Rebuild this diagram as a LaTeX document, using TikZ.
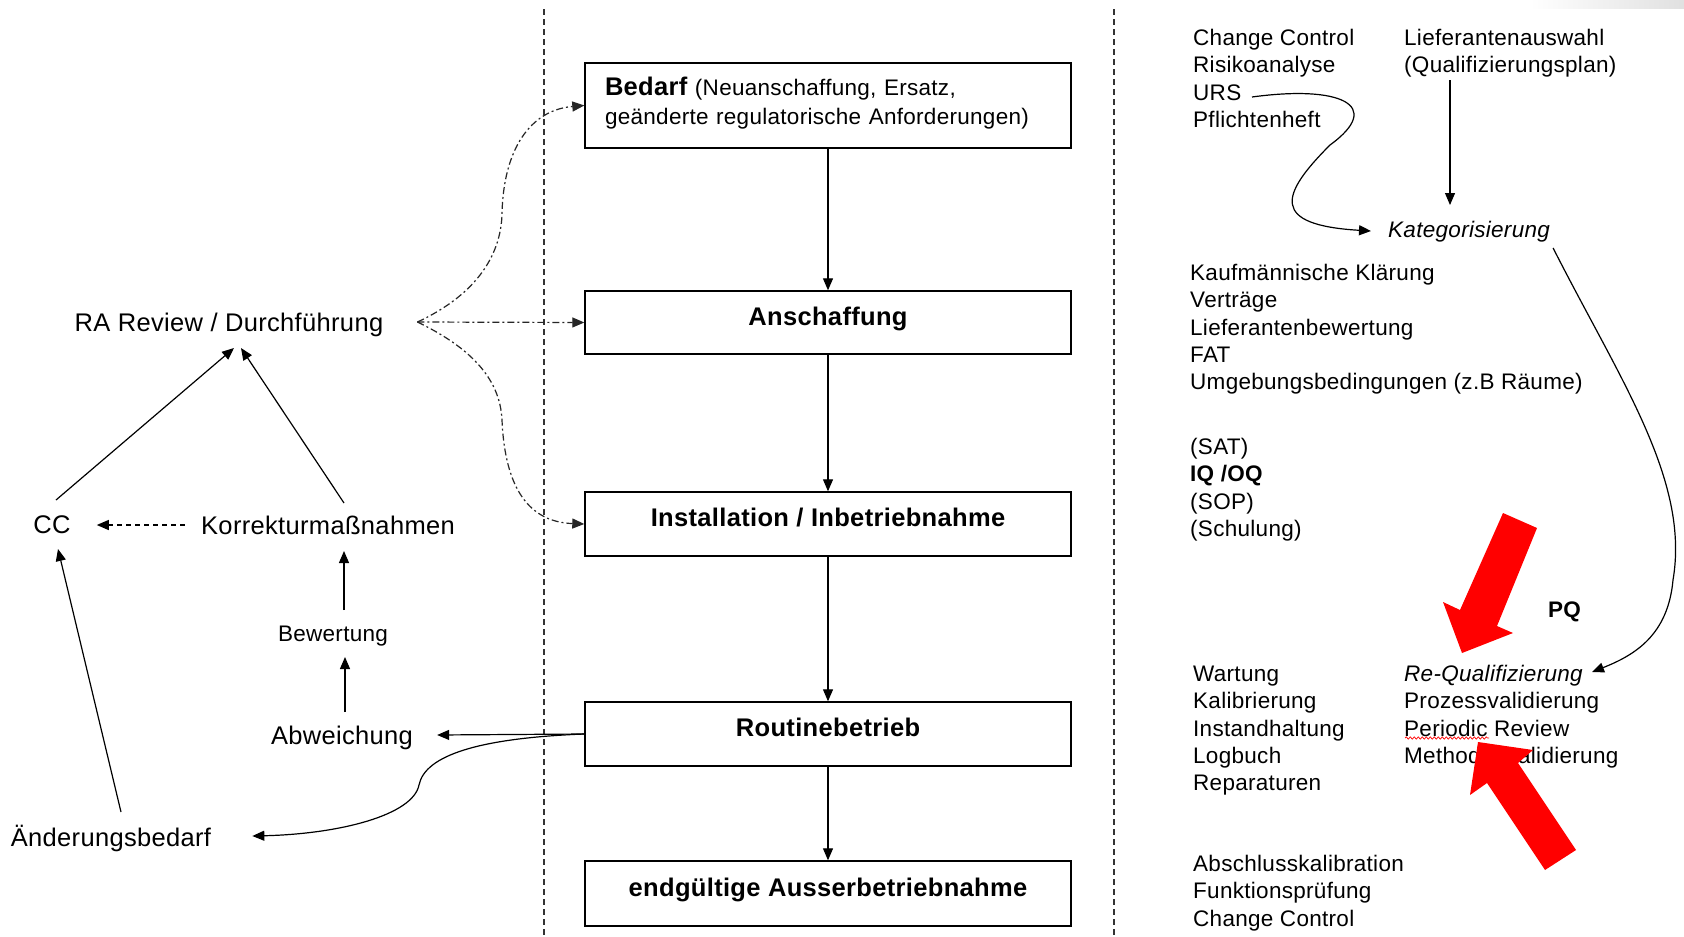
\documentclass[tikz,border=0pt]{standalone}
\usepackage{fontspec}
\setmainfont{Liberation Sans}[LetterSpace=1.3]
\usetikzlibrary{arrows.meta,calc,decorations.pathmorphing}
\newcommand\szA{\fontsize{22.5}{27.4}\selectfont}
\newcommand\szB{\fontsize{25.5}{30}\selectfont}
\newcommand\szC{\fontsize{22.5}{29}\selectfont}
\newcommand\firstln{\rule{0pt}{20pt}}
\begin{document}
\begin{tikzpicture}[x=1pt,y=-1pt,
  conn/.style={draw=black, line width=1.2pt, -{Triangle[length=12pt,width=10pt]}},
  boxbase/.style={draw=black, line width=1.4pt, fill=white, minimum width=486pt, inner sep=0pt},
  box/.style={boxbase, font=\szB\bfseries, text height=20pt, text depth=15pt},
  lbl/.style={inner sep=0pt, anchor=base, font=\szB},
  blk/.style={inner sep=0pt, anchor=north west, align=left, font=\szA},
  sep/.style={line width=1.4pt, dash pattern=on 6pt off 4pt, draw=black!80},
  dd/.style={line width=1.2pt, draw=black!85, dash pattern=on 7pt off 3pt on 2pt off 3pt, -{Triangle[length=12pt,width=10pt]}},
  redarrow/.style={fill=red, draw=none}
]
\useasboundingbox (0,0) rectangle (1684,937);
\fill[white] (0,0) rectangle (1684,937);
\shade[left color=white, right color=black!12] (1530,0) rectangle (1684,8);

% separators
\draw[sep] (544,9) -- (544,937);
\draw[sep] (1114,9) -- (1114,937);

% central boxes
\node[boxbase, minimum height=85pt, text width=446pt, inner xsep=20pt, align=left, font=\szC] (bedarf) at (828,105.5)
  {\rule{0pt}{12pt}{\szB\bfseries Bedarf} (Neuanschaffung, Ersatz,\\geänderte regulatorische Anforderungen)\rule[-10pt]{0pt}{10pt}};
\node[box, minimum height=63pt] (ansch) at (828,322.5) {Anschaffung};
\node[box, minimum height=64pt] (inst) at (828,524) {Installation / Inbetriebnahme};
\node[box, minimum height=64pt] (routine) at (828,734) {Routinebetrieb};
\node[box, minimum height=65pt] (ende) at (828,893.5) {endgültige Ausserbetriebnahme};

\draw[conn] (bedarf) -- (ansch);
\draw[conn] (ansch) -- (inst);
\draw[conn] (inst) -- (routine);
\draw[conn] (routine) -- (ende);

% left labels
\node[lbl] (ra) at (229,331) {RA Review / Durchführung};
\node[lbl] (cc) at (52,533) {CC};
\node[lbl] (korr) at (328,534) {Korrekturmaßnahmen};
\node[lbl, font=\szA] (bew) at (333,641) {Bewertung};
\node[lbl] (abw) at (342,744) {Abweichung};
\node[lbl] (aend) at (111,846) {Änderungsbedarf};

\draw[conn] ($(cc.base)+(4,-33)$) -- ($(ra.base)+(5,17)$);
\draw[conn] ($(korr.base)+(16,-31)$) -- ($(ra.base)+(12,17)$);
\draw[conn, dash pattern=on 5pt off 4pt] ($(korr.base west)+(-16,-9)$) -- ($(cc.base east)+(26,-8)$);
\draw[conn] ($(bew.base)+(11,-31)$) -- ($(korr.base)+(16,17)$);
\draw[conn] ($(abw.base)+(3,-32)$) -- ($(bew.base)+(12,16)$);
\draw[conn] ($(aend.base)+(10,-34)$) -- ($(cc.base)+(6,16)$);
\draw[conn] (routine.west) -- ($(abw.base east)+(24,-9)$);
\draw[conn] (routine.west) .. controls (480,738) and (425,755) .. (419,785)
  .. controls (413,815) and (340,834) .. ($(aend.base east)+(41,-10)$);

% dash-dot links from RA
\draw[dd] ($(ra.base east)+(34,-9)$) .. controls (465,300) and (500,265) .. (502,215)
  .. controls (503,150) and (530,110) .. (bedarf.west);
\draw[dd] ($(ra.base east)+(34,-9)$) -- (ansch.west);
\draw[dd] ($(ra.base east)+(34,-9)$) .. controls (465,345) and (500,375) .. (502,420)
  .. controls (505,490) and (530,522) .. (inst.west);

% right column texts
\node[blk] (ccb) at (1193,25) {\firstln Change Control\\Risikoanalyse\\URS\\Pflichtenheft};
\node[blk] (lief) at (1404,25) {\firstln Lieferantenauswahl\\(Qualifizierungsplan)};
\node[lbl, anchor=base west, font=\szA\itshape] (kat) at (1388,237) {Kategorisierung};
\node[blk] (kauf) at (1190,260) {\firstln Kaufmännische Klärung\\Verträge\\Lieferantenbewertung\\FAT\\Umgebungsbedingungen (z.B Räume)};
\node[blk] (sat) at (1190,434) {\firstln (SAT)\\\textbf{IQ /OQ}\\(SOP)\\(Schulung)};
\node[lbl, anchor=base west, font=\szA\bfseries] (pq) at (1548,617) {PQ};
\node[blk] (wart) at (1193,661) {\firstln Wartung\\Kalibrierung\\Instandhaltung\\Logbuch\\Reparaturen};
\node[blk] (reqa) at (1404,661) {\firstln\textit{Re-Qualifizierung}\\Prozessvalidierung\\Periodic Review\\Methodenvalidierung};
\node[blk] (absch) at (1193,851) {\firstln Abschlusskalibration\\Funktionsprüfung\\Change Control};

% wavy underline under "Periodic"
\draw[red, line width=0.7pt, decorate, decoration={snake, amplitude=1.1pt, segment length=4pt}]
  ($(reqa.north west)+(1,77)$) -- ($(reqa.north west)+(85,77)$);

% right connectors
\draw[conn] ($(ccb.north west)+(59,72)$) .. controls (1340,85) and (1385,105) .. (1330,145)
  .. controls (1280,195) and (1270,225) .. ($(kat.base west)+(-17,-6)$);
\draw[conn] ($(lief.north west)+(46,55)$) -- ($(kat.base west)+(62,-32)$);
\draw[conn] ($(kat.base east)+(3,11)$) .. controls (1620,380) and (1690,480) .. (1673,580)
  .. controls (1668,635) and (1635,655) .. ($(reqa.north west)+(188,11)$);

% red highlight arrows
\fill[redarrow] (1537,528) -- (1497,626) -- (1513,633) -- (1462,653)
  -- (1443,602) -- (1460,610) -- (1503,513) -- cycle;
\fill[redarrow] (1576,850) -- (1518,763) -- (1533,750) -- (1478,742)
  -- (1470,795) -- (1487,783) -- (1545,870) -- cycle;
\end{tikzpicture}
\end{document}
